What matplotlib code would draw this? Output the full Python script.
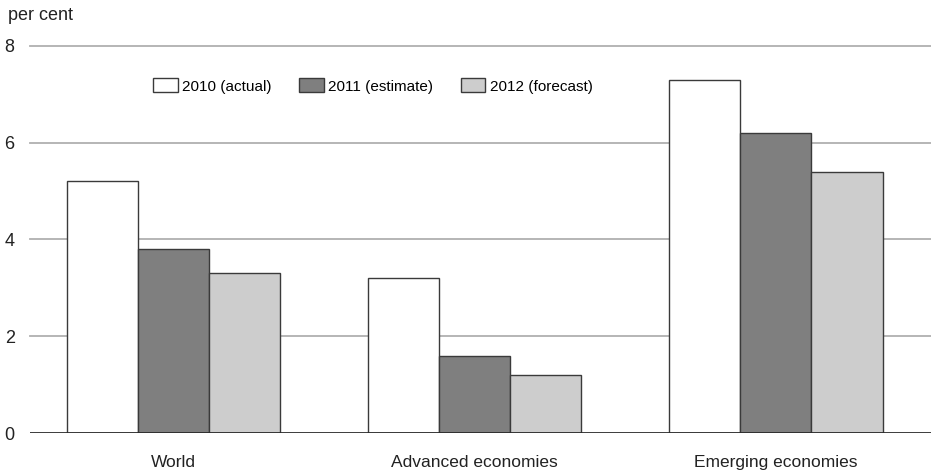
import matplotlib.pyplot as plt
import numpy as np

plt.rcParams["font.family"] = ["Liberation Sans", "DejaVu Sans"]

categories = ["World", "Advanced economies", "Emerging economies"]
series_names = ["2010 (actual)", "2011 (estimate)", "2012 (forecast)"]
values_2010 = [5.2, 3.2, 7.3]
values_2011 = [3.8, 1.6, 6.2]
values_2012 = [3.3, 1.2, 5.4]
yticks = [0, 2, 4, 6, 8]

fill_colors = ["#ffffff", "#7f7f7f", "#cdcdcd"]
edge_color = "#3a3a3a"

fig = plt.figure(figsize=(9.31, 4.73), dpi=100)
ax = fig.add_axes([30 / 931, 40 / 473, 901 / 931, 387 / 473])

x = np.arange(len(categories))
width = 0.236
for i, (vals, name, col) in enumerate(zip([values_2010, values_2011, values_2012], series_names, fill_colors)):
    ax.bar(x + (i - 1) * width, vals, width, color=col, edgecolor=edge_color,
           linewidth=1.0, label=name, zorder=3)

ax.set_ylim(0, 8)
ax.set_xlim(-0.477, 2.515)
ax.set_yticks(yticks)
ax.set_yticklabels([str(t) for t in yticks], fontsize=13, color="#222222")
ax.set_xticks(x)
ax.set_xticklabels(categories, fontsize=12.5, color="#222222")
ax.tick_params(axis="both", length=0)
ax.tick_params(axis="x", pad=16)
ax.tick_params(axis="y", pad=11)

for t in yticks[1:]:
    ax.axhline(t, color="#b0b0b0", linewidth=1.3, zorder=1, clip_on=False)
ax.axhline(0, color="#2a2a2a", linewidth=2.0, zorder=4)

for s in ax.spines.values():
    s.set_visible(False)

fig.text(8 / 931, 1 - 15 / 473, "per cent", fontsize=13, color="#222222", va="center", ha="left")

ax.legend(loc="center", bbox_to_anchor=(373 / 931, 1 - 86 / 473), bbox_transform=fig.transFigure,
          ncol=3, frameon=False, fontsize=11, handlelength=1.6, handleheight=1.0,
          handletextpad=0.3, columnspacing=1.8)

fig.savefig("out.png", dpi=100)
